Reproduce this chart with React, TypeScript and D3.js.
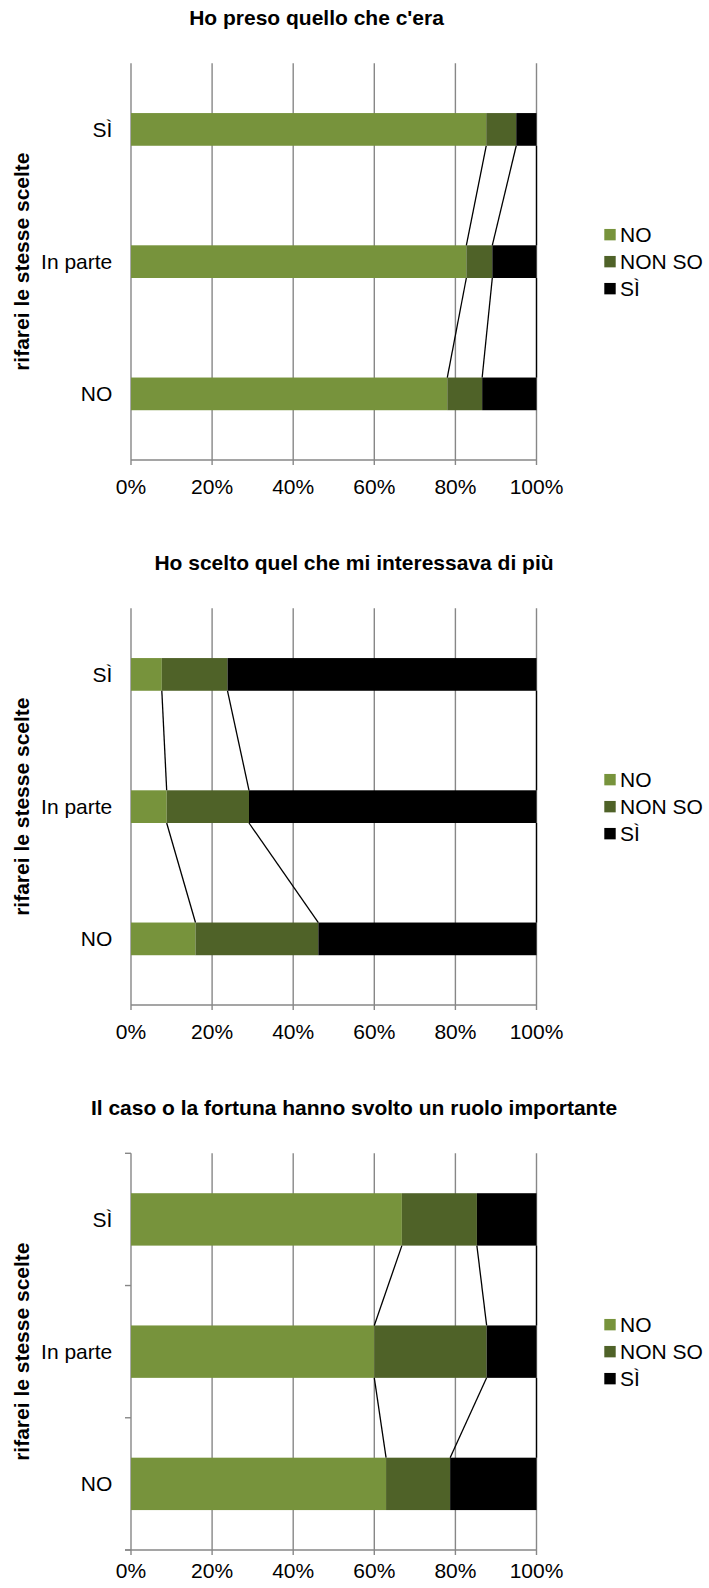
import React from "react";
import * as d3 from "d3";

const categories = ["SÌ", "In parte", "NO"];
const seriesNames = ["NO", "NON SO", "SÌ"];
const seriesColors = ["#77933C", "#4F6228", "#000000"];
const xTicks = [0, 20, 40, 60, 80, 100];

const titles = [
  "Ho preso quello che c'era",
  "Ho scelto quel che mi interessava di più",
  "Il caso o la fortuna hanno svolto un ruolo importante",
];
const axisTitle = "rifarei le stesse scelte";

// values per series, in category order [SÌ, In parte, NO], percent
const chart1NO = [87.6, 82.7, 78.0];
const chart1NONSO = [7.4, 6.4, 8.6];
const chart1SI = [5.0, 10.9, 13.4];

const chart2NO = [7.6, 8.8, 15.9];
const chart2NONSO = [16.2, 20.3, 30.3];
const chart2SI = [76.2, 70.9, 53.8];

const chart3NO = [66.8, 60.0, 62.9];
const chart3NONSO = [18.5, 27.7, 15.8];
const chart3SI = [14.7, 12.3, 21.3];

const charts = [
  { title: titles[0], series: [chart1NO, chart1NONSO, chart1SI], dy: 0, titleX: 316.5, barH: 32.7, yTicks: false, labelGap: 33.5 },
  { title: titles[1], series: [chart2NO, chart2NONSO, chart2SI], dy: 545, titleX: 354, barH: 32.7, yTicks: false, labelGap: 33.5 },
  { title: titles[2], series: [chart3NO, chart3NONSO, chart3SI], dy: 1090, titleX: 354, barH: 52.4, yTicks: true, labelGap: 28 },
];

const FONT = "'Liberation Sans', Arial, Helvetica, sans-serif";
const GRID = "#878787";

function Chart({ cfg }: { cfg: any }) {
  const dy = cfg.dy;
  const top = 63.3 + dy;
  const bottom = 460 + dy;
  const x = d3.scaleLinear().domain([0, 100]).range([131, 536.5]);
  const y = d3.scaleBand<string>().domain(categories).range([top, bottom]).padding(0);
  const bw = y.bandwidth();
  const barY = (c: string) => (y(c) as number) + (bw - cfg.barH) / 2;

  const stackData = categories.map((c, i) => {
    const row: any = { cat: c };
    seriesNames.forEach((s, k) => (row[s] = cfg.series[k][i]));
    return row;
  });
  const stacked = d3.stack<any>().keys(seriesNames)(stackData);

  const legendCenter = (top + bottom) / 2;
  const legendY = d3.scalePoint<string>().domain(seriesNames).range([legendCenter - 27, legendCenter + 27]);

  const seriesLines: any[] = [];
  for (let i = 0; i < categories.length - 1; i++) {
    const c0 = categories[i];
    const c1 = categories[i + 1];
    stacked.forEach((layer, k) => {
      seriesLines.push({
        key: `${i}-${k}`,
        x1: x(layer[i][1]),
        y1: barY(c0) + cfg.barH,
        x2: x(layer[i + 1][1]),
        y2: barY(c1),
      });
    });
  }

  const boundaries = [top, ...categories.slice(1).map((c) => y(c) as number), bottom];

  return (
    <g>
      <text x={cfg.titleX} y={25 + dy} textAnchor="middle" fontFamily={FONT} fontWeight="bold" fontSize={21} fill="#000">
        {cfg.title}
      </text>
      <text
        transform={`translate(29,${legendCenter}) rotate(-90)`}
        textAnchor="middle"
        fontFamily={FONT}
        fontWeight="bold"
        fontSize={21}
        fill="#000"
      >
        {axisTitle}
      </text>
      {xTicks.map((t) => (
        <line key={"g" + t} x1={x(t)} x2={x(t)} y1={top} y2={bottom + 5} stroke={GRID} strokeWidth={1.4} />
      ))}
      <line x1={cfg.yTicks ? 125 : x(0)} x2={x(100)} y1={bottom} y2={bottom} stroke={GRID} strokeWidth={1.4} />
      {cfg.yTicks &&
        boundaries.map((b, i) => (
          <line key={"yt" + i} x1={125} x2={x(0)} y1={b} y2={b} stroke={GRID} strokeWidth={1.4} />
        ))}
      {stacked.map((layer, k) =>
        layer.map((d: any, i: number) => (
          <rect
            key={`b${k}-${i}`}
            x={x(d[0])}
            y={barY(categories[i])}
            width={x(d[1]) - x(d[0])}
            height={cfg.barH}
            fill={seriesColors[k]}
          />
        ))
      )}
      {seriesLines.map((l) => (
        <line key={l.key} x1={l.x1} y1={l.y1} x2={l.x2} y2={l.y2} stroke="#000" strokeWidth={1.3} />
      ))}
      {categories.map((c) => (
        <text key={"c" + c} x={112.3} y={barY(c) + cfg.barH / 2 + 7.5} textAnchor="end" fontFamily={FONT} fontSize={21} fill="#000">
          {c}
        </text>
      ))}
      {xTicks.map((t) => (
        <text key={"t" + t} x={x(t)} y={bottom + cfg.labelGap} textAnchor="middle" fontFamily={FONT} fontSize={21} fill="#000">
          {t + "%"}
        </text>
      ))}
      {seriesNames.map((s, k) => (
        <g key={"l" + s}>
          <rect x={604.3} y={(legendY(s) as number) - 5.7} width={11.4} height={11.4} fill={seriesColors[k]} />
          <text x={620} y={(legendY(s) as number) + 7.5} fontFamily={FONT} fontSize={21} fill="#000">
            {s}
          </text>
        </g>
      ))}
    </g>
  );
}

export default function App() {
  return (
    <svg
      width={709}
      height={1588}
      viewBox="0 0 709 1588"
      style={{ position: "absolute", left: 0, top: 0, background: "#fff" }}
    >
      <rect x={0} y={0} width={709} height={1588} fill="#fff" />
      {charts.map((c, i) => (
        <Chart key={i} cfg={c} />
      ))}
    </svg>
  );
}
